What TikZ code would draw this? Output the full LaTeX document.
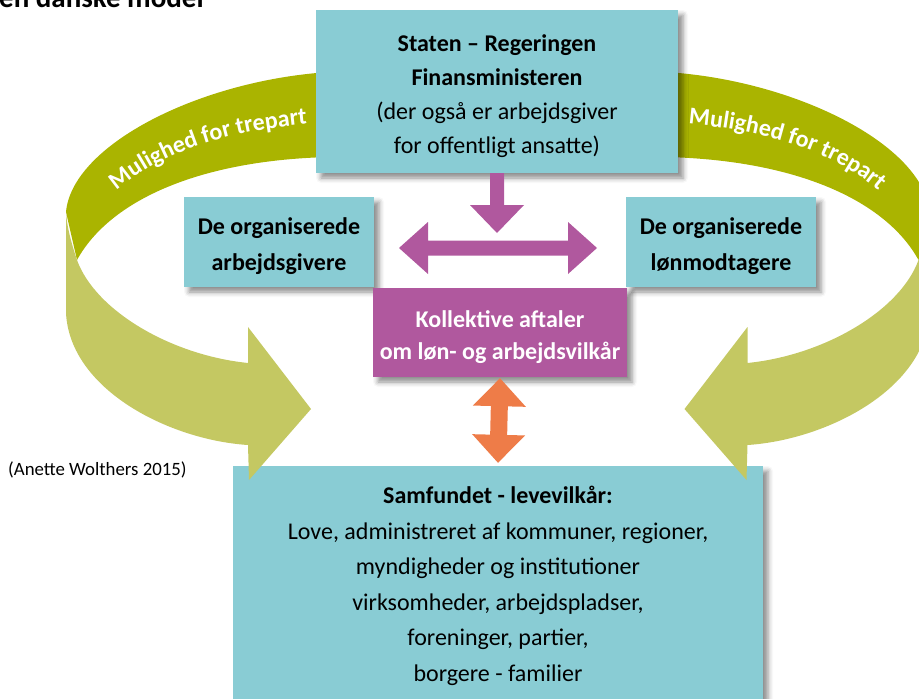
\documentclass[tikz,border=0pt]{standalone}
\usepackage{fontspec}
\setmainfont{Carlito}
\usetikzlibrary{calc, decorations.text, shadows.blur}

\definecolor{boks}{RGB}{137,204,212}
\definecolor{lilla}{RGB}{176,88,158}
\definecolor{pilorange}{RGB}{238,124,72}
\definecolor{oliven}{RGB}{170,180,0}
\definecolor{lysgroen}{RGB}{196,200,98}

% usynlig stoette, saetter hoejden paa foerste linje
\newcommand\loeft[1]{\rule{0pt}{#1}}

% blokpile: stil, fra, til, halv skaftbredde, halv hovedbredde, hovedlaengde
\newcommand\enkeltpil[6]{%
  \coordinate (pA) at (#2); \coordinate (pB) at (#3);
  \coordinate (pH) at ($(pB)!#6!(pA)$);
  \fill[#1] ($(pA)!#4!90:(pB)$) -- ($(pH)!#4!90:(pB)$) -- ($(pH)!#5!90:(pB)$) -- (pB)
    -- ($(pH)!#5!-90:(pB)$) -- ($(pH)!#4!-90:(pB)$) -- ($(pA)!#4!-90:(pB)$) -- cycle;}
\newcommand\dobbeltpil[6]{%
  \coordinate (pA) at (#2); \coordinate (pB) at (#3);
  \coordinate (pHa) at ($(pA)!#6!(pB)$); \coordinate (pHb) at ($(pB)!#6!(pA)$);
  \fill[#1] (pA) -- ($(pHa)!#5!90:(pB)$) -- ($(pHa)!#4!90:(pB)$) -- ($(pHb)!#4!90:(pB)$)
    -- ($(pHb)!#5!90:(pB)$) -- (pB) -- ($(pHb)!#5!-90:(pB)$) -- ($(pHb)!#4!-90:(pB)$)
    -- ($(pHa)!#4!-90:(pB)$) -- ($(pHa)!#5!-90:(pB)$) -- cycle;}

% den buede trepartspil (venstre udgave)
\newcommand\groenpil{%
  \fill[oliven] (330,72) .. controls (200,80) and (72,145) .. (66,212)
    -- (77,260) .. controls (110,200) and (200,160) .. (330,157) -- cycle;
  \fill[lysgroen] (66,212) -- (66,313) .. controls (70,390) and (170,440) .. (248,445)
    -- (249,480) -- (311,409) -- (248,327) -- (248,363)
    .. controls (170,355) and (95,310) .. (77,260)
    .. controls (72,245) and (67,228) .. (66,212) -- cycle;}

\begin{document}
\begin{tikzpicture}[x=1pt, y=-1pt,
    kasse/.style={fill=boks, align=center, inner sep=0pt,
        font=\fontsize{24}{34}\selectfont,
        blur shadow={shadow xshift=5pt, shadow yshift=-5pt,
            shadow blur radius=5pt, shadow opacity=45}},
    tekstbue/.style={decorate, decoration={text along path, text align=center,
        text={|\fontsize{24}{28}\selectfont\bfseries\color{white}|Mulighed for trepart}}}]

    \useasboundingbox (0,0) rectangle (919,699);
    \clip (0,0) rectangle (919,699);

    \node[anchor=base west, inner sep=0pt, font=\fontsize{29}{34}\selectfont\bfseries]
        (titel) at (-1,7) {en danske model};

    % samfundet nederst, de buede pile ligger ovenpaa
    \node[kasse, minimum width=530pt, minimum height=236pt,
        font=\fontsize{24}{35.6}\selectfont] (samfund) at (498,584)
        {\loeft{21pt}\textbf{Samfundet - levevilkår:}\\Love, administreret af kommuner, regioner,\\
         myndigheder og institutioner\\virksomheder, arbejdspladser,\\
         foreninger, partier,\\borgere - familier};

    \groenpil
    \begin{scope}[xshift=995.5pt, xscale=-1]
        \groenpil
    \end{scope}
    \path[tekstbue] (90,218) .. controls (140,155) and (230,125) .. (345,122);
    \path[tekstbue] (650.5,122) .. controls (765.5,125) and (855.5,155) .. (905.5,218);

    \node[kasse, minimum width=362pt, minimum height=163pt] (staten) at (497,91.5)
        {\loeft{26pt}\textbf{Staten – Regeringen}\\\textbf{Finansministeren}\\
         (der også er arbejdsgiver\\for offentligt ansatte)};
    \node[kasse, minimum width=190pt, minimum height=90pt, font=\fontsize{24}{36}\selectfont\bfseries]
        (arbg) at (279,242) {\loeft{26pt}De organiserede\\arbejdsgivere};
    \node[kasse, minimum width=190pt, minimum height=90pt, font=\fontsize{24}{36}\selectfont\bfseries]
        (loenm) at (721,242) {\loeft{26pt}De organiserede\\lønmodtagere};
    \node[kasse, fill=lilla, text=white, minimum width=254pt, minimum height=89pt,
        font=\fontsize{24}{32}\selectfont\bfseries] (aftaler) at (500,332.5)
        {\loeft{26pt}Kollektive aftaler\\om løn- og arbejdsvilkår};

    \node[anchor=west, inner sep=0pt, font=\fontsize{18.8}{22}\selectfont]
        (kilde) at (8,470) {(Anette Wolthers 2015)};

    % pile mellem parterne
    \coordinate (knude) at (497,233);
    \coordinate (venstre) at (399,248);
    \coordinate (hoejre) at (597,248);
    \enkeltpil{lilla}{staten.south}{knude}{7pt}{27pt}{28pt}
    \dobbeltpil{lilla}{venstre}{hoejre}{7.5pt}{26pt}{29pt}
    \dobbeltpil{pilorange}{$(aftaler.south)+(0,1)$}{$(samfund.north)+(0,-3)$}{8.5pt}{26.5pt}{28pt}

\end{tikzpicture}
\end{document}
